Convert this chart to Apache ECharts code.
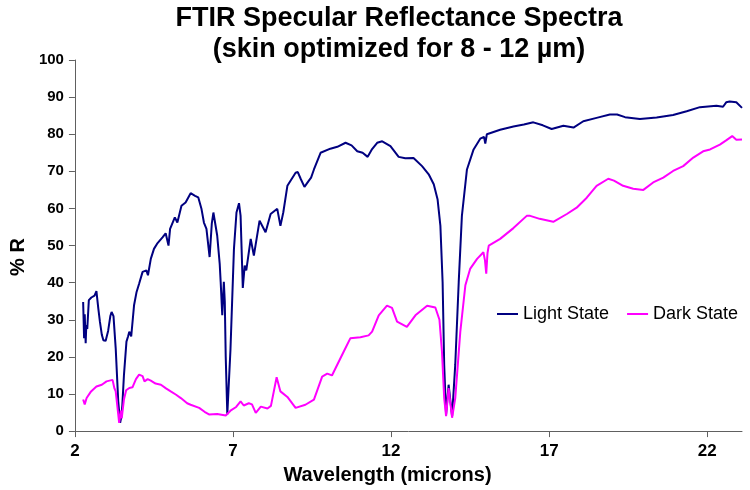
<!DOCTYPE html>
<html>
<head>
<meta charset="utf-8">
<title>FTIR Specular Reflectance Spectra</title>
<script src="https://cdn.jsdelivr.net/npm/echarts@6/dist/echarts.min.js"></script>
<style>
  html, body { margin: 0; padding: 0; background: #ffffff; }
  #chart { width: 750px; height: 490px; }
</style>
</head>
<body>
<div id="chart"></div>
<script>
// wavelength (microns) and %R
var lightX = [2.26, 2.29, 2.31, 2.34, 2.36, 2.39, 2.44, 2.52, 2.62, 2.68, 2.74, 2.79, 2.85, 2.90, 2.97,
  3.05, 3.12, 3.16, 3.22, 3.29, 3.37, 3.43, 3.47, 3.50, 3.55, 3.63, 3.68, 3.72, 3.78, 3.87, 3.95,
  4.03, 4.14, 4.26, 4.31, 4.40, 4.50, 4.60, 4.66, 4.77, 4.87, 4.96, 5.01, 5.16, 5.24, 5.30, 5.37,
  5.50, 5.66, 5.80, 5.90, 6.00, 6.08, 6.16, 6.26, 6.33, 6.38, 6.43, 6.50, 6.58, 6.61, 6.66, 6.71,
  6.74, 6.77, 6.82, 6.87, 6.92, 7.03, 7.11, 7.19, 7.24, 7.31, 7.37, 7.42, 7.56, 7.66, 7.84, 8.03,
  8.19, 8.40, 8.50, 8.59, 8.72, 8.77, 8.98, 9.05, 9.14, 9.26, 9.40, 9.47, 9.56, 9.77, 10.08, 10.30,
  10.56, 10.75, 10.93, 11.10, 11.26, 11.40, 11.56, 11.72, 11.98, 12.24, 12.45, 12.71, 12.98, 13.19,
  13.35, 13.47, 13.56, 13.63, 13.68, 13.74, 13.82, 13.93, 14.03, 14.14, 14.24, 14.40, 14.61, 14.82,
  14.94, 14.98, 15.03, 15.09, 15.45, 15.87, 16.20, 16.50, 16.80, 17.08, 17.45, 17.77, 18.08, 18.50,
  18.92, 19.15, 19.40, 19.87, 20.40, 20.92, 21.35, 21.77, 22.29, 22.50, 22.60, 22.71, 22.92, 23.10];
var lightY = [34.8, 25.0, 31.5, 23.7, 28.6, 27.5, 35.3, 36.0, 36.5, 37.7, 33.0, 29.5, 26.0, 24.5, 24.3,
  27.0, 31.0, 32.1, 31.0, 22.3, 8.0, 2.2, 4.0, 7.1, 15.0, 24.1, 25.5, 26.8, 25.5, 33.9, 37.5,
  39.7, 42.9, 43.3, 42.0, 46.4, 49.1, 50.5, 51.0, 52.2, 53.3, 50.0, 54.5, 57.6, 56.2, 56.5, 60.7,
  61.6, 64.1, 63.4, 63.0, 60.0, 56.2, 54.5, 46.9, 56.0, 58.9, 58.5, 52.7, 45.0, 40.2, 31.2, 40.2,
  35.0, 20.0, 4.5, 4.5, 22.0, 49.1, 58.9, 61.4, 58.0, 38.6, 44.6, 43.3, 51.8, 47.3, 56.7, 53.6,
  58.5, 59.9, 55.3, 58.9, 66.1, 66.5, 69.6, 69.8, 68.0, 65.8, 67.5, 68.3, 70.5, 75.0, 76.1, 76.6,
  77.7, 77.0, 75.4, 75.0, 73.9, 76.0, 77.7, 78.1, 76.8, 73.9, 73.5, 73.6, 71.4, 69.2,
  66.5, 62.5, 55.3, 40.2, 17.9, 4.5, 12.5, 4.0, 17.9, 40.2, 58.0, 70.5, 75.9, 78.8,
  79.3, 77.5, 80.0, 80.4, 81.2, 82.1, 82.6, 83.2, 82.4, 81.4, 82.3, 81.8, 83.5, 84.4,
  85.3, 85.3, 84.6, 84.1, 84.5, 85.2, 86.2, 87.3, 87.7, 87.4, 88.6, 88.8, 88.6, 87.1];

var darkX = [2.26, 2.31, 2.37, 2.51, 2.68, 2.85, 3.00, 3.19, 3.25, 3.29, 3.37, 3.40, 3.45, 3.48, 3.55,
  3.62, 3.72, 3.82, 3.93, 4.03, 4.14, 4.20, 4.30, 4.40, 4.55, 4.72, 4.88, 5.03, 5.20, 5.35, 5.55,
  5.66, 5.93, 6.10, 6.24, 6.50, 6.77, 6.92, 7.10, 7.24, 7.34, 7.50, 7.60, 7.72, 7.88, 8.09, 8.20,
  8.38, 8.50, 8.72, 8.98, 9.29, 9.56, 9.82, 9.98, 10.13, 10.50, 10.71, 11.03, 11.29, 11.40, 11.61,
  11.87, 12.03, 12.19, 12.50, 12.77, 13.14, 13.40, 13.53, 13.61, 13.68, 13.74, 13.82, 13.93, 14.03,
  14.19, 14.35, 14.50, 14.72, 14.92, 14.97, 15.01, 15.05, 15.09, 15.45, 15.87, 16.29, 16.40, 16.70,
  17.13, 17.56, 17.87, 18.19, 18.50, 18.87, 19.05, 19.34, 19.66, 19.98, 20.29, 20.61, 20.92, 21.24,
  21.56, 21.87, 22.09, 22.40, 22.61, 22.79, 22.92, 23.10];
var darkY = [8.5, 7.2, 8.9, 10.7, 12.0, 12.5, 13.4, 13.8, 11.5, 10.7, 4.5, 2.2, 5.5, 3.4, 8.5,
  11.0, 11.6, 11.8, 14.0, 15.2, 14.8, 13.4, 14.0, 13.6, 12.8, 12.5, 11.5, 10.7, 9.8, 8.9, 7.5,
  7.1, 6.25, 5.2, 4.5, 4.6, 4.2, 5.5, 6.5, 8.0, 6.9, 7.5, 7.2, 4.9, 6.6, 6.1, 6.8,
  14.5, 10.7, 9.2, 6.25, 7.1, 8.5, 14.7, 15.5, 15.0, 21.4, 25.0, 25.3, 25.8, 26.8, 31.2,
  33.8, 33.2, 29.5, 28.1, 31.2, 33.8, 33.3, 30.0, 21.4, 8.9, 4.0, 11.6, 3.6, 8.9,
  26.8, 39.3, 43.7, 46.4, 48.2, 46.0, 42.4, 48.0, 50.0, 51.8, 54.7, 58.0, 58.0, 57.2,
  56.4, 58.5, 60.2, 62.9, 66.1, 68.0, 67.5, 66.1, 65.3, 65.0, 67.0, 68.3, 70.1, 71.4,
  73.7, 75.4, 75.9, 77.2, 78.4, 79.5, 78.5, 78.6];

var seriesNames = ['Light State', 'Dark State'];
var seriesColors = ['#000080', '#ff00ff'];

// pair up x and y for a value/value line
function pairs(xs, ys) {
  var out = [];
  for (var i = 0; i < xs.length; i++) {
    out.push([xs[i], ys[i]]);
  }
  return out;
}

var chart = echarts.init(document.getElementById('chart'));

var font = 'Arial, "Liberation Sans", sans-serif';

var option = {
  animation: false,
  backgroundColor: '#ffffff',
  color: seriesColors,
  title: {
    text: 'FTIR Specular Reflectance Spectra\n(skin optimized for 8 - 12 µm)',
    left: 394,
    top: -2,
    textAlign: 'center',
    textStyle: {
      fontFamily: font,
      fontWeight: 'bold',
      fontSize: 27,
      lineHeight: 31,
      color: '#000000'
    }
  },
  legend: {
    left: 492,
    top: 300,
    icon: 'rect',
    itemWidth: 21,
    itemHeight: 2,
    itemGap: 18,
    textStyle: {
      fontFamily: font,
      fontSize: 18,
      color: '#000000'
    },
    data: seriesNames
  },
  grid: {
    left: 74,
    right: 8,
    top: 60,
    bottom: 57
  },
  xAxis: {
    type: 'value',
    min: 2,
    max: 23.1,
    interval: 5,
    name: 'Wavelength (microns)',
    nameLocation: 'middle',
    nameGap: 28,
    nameTextStyle: {
      fontFamily: font,
      fontWeight: 'bold',
      fontSize: 20,
      color: '#000000',
      padding: [0, 42, 0, 0]
    },
    splitLine: { show: false },
    axisLine: { lineStyle: { color: '#606060', width: 1 } },
    axisTick: { inside: false, length: 6, lineStyle: { color: '#606060' } },
    axisLabel: {
      fontFamily: font,
      fontWeight: 'bold',
      fontSize: 17,
      color: '#000000',
      margin: 12,
      showMaxLabel: false
    }
  },
  yAxis: {
    type: 'value',
    min: 0,
    max: 100,
    interval: 10,
    name: '% R',
    nameLocation: 'middle',
    nameGap: 46,
    nameTextStyle: {
      fontFamily: font,
      fontWeight: 'bold',
      fontSize: 20,
      color: '#000000',
      padding: [0, 23, 0, 0]
    },
    splitLine: { show: false },
    axisLine: { show: true, lineStyle: { color: '#606060', width: 1 } },
    axisTick: { show: true, inside: false, length: 6, lineStyle: { color: '#606060' } },
    axisLabel: {
      fontFamily: font,
      fontWeight: 'bold',
      fontSize: 15,
      color: '#000000',
      margin: 11
    }
  },
  series: [
    {
      name: seriesNames[0],
      type: 'line',
      symbol: 'none',
      lineStyle: { width: 2, color: seriesColors[0] },
      data: pairs(lightX, lightY)
    },
    {
      name: seriesNames[1],
      type: 'line',
      symbol: 'none',
      lineStyle: { width: 2, color: seriesColors[1] },
      data: pairs(darkX, darkY)
    }
  ]
};

chart.setOption(option);
</script>
</body>
</html>
